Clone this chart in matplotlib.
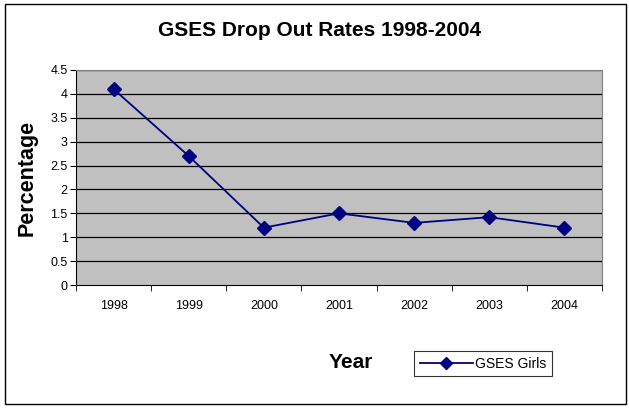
"""GSES drop out rates line chart, 1998-2004."""

import matplotlib.pyplot as plt
from matplotlib.lines import Line2D
from matplotlib.patches import Rectangle

plt.rcParams["font.family"] = ["Liberation Sans", "DejaVu Sans"]

years = ["1998", "1999", "2000", "2001", "2002", "2003", "2004"]
girls_rate = [4.1, 2.7, 1.2, 1.5, 1.3, 1.42, 1.2]
y_ticks = [0, 0.5, 1, 1.5, 2, 2.5, 3, 3.5, 4, 4.5]

navy = "#000080"

fig = plt.figure(figsize=(6.29, 4.12), dpi=100)
fig.patch.set_facecolor("white")

# chart area frame
fig.patches.append(Rectangle((5 / 629, 1 - 404 / 412), 621 / 629, 400 / 412,
                             transform=fig.transFigure, fill=False,
                             edgecolor="black", linewidth=1.0))

ax = fig.add_axes([76 / 629, 1 - 285 / 412, 526 / 629, 215 / 412])
ax.set_facecolor("#C0C0C0")

x = list(range(len(years)))
ax.plot(x, girls_rate, color=navy, linewidth=1.3, marker="D",
        markersize=7, markerfacecolor=navy, markeredgecolor=navy,
        zorder=3)

ax.set_xlim(-0.5, len(years) - 0.5)
ax.set_ylim(0, 4.5)
ax.set_yticks(y_ticks)
ax.set_yticklabels([f"{t:g}" for t in y_ticks], fontsize=9)
for t in y_ticks[1:]:
    ax.axhline(t, color="black", linewidth=0.9, zorder=1)

# category labels centred, tick marks on the category boundaries
ax.set_xticks(x)
ax.set_xticklabels(years, fontsize=9)
ax.tick_params(axis="x", length=0, pad=11)
ax.set_xticks([i - 0.5 for i in range(len(years) + 1)], minor=True)
ax.tick_params(axis="x", which="minor", length=4, color="black")
ax.tick_params(axis="y", length=4, color="black", pad=2)

ax.spines["top"].set_color("#808080")
ax.spines["right"].set_color("#808080")
ax.spines["left"].set_color("black")
ax.spines["bottom"].set_color("black")

fig.text(0.508, 1 - 30 / 412, "GSES Drop Out Rates 1998-2004",
         ha="center", va="center", fontsize=15, fontweight="bold")
fig.text(27 / 629, 1 - 178 / 412, "Percentage", rotation=90,
         ha="center", va="center", fontsize=15.5, fontweight="bold")
fig.text(351 / 629, 1 - 362 / 412, "Year",
         ha="center", va="center", fontsize=15, fontweight="bold")

handle = Line2D([], [], color=navy, linewidth=1.3, marker="D",
                markersize=6, markerfacecolor=navy)
leg = fig.legend([handle], ["GSES Girls"], loc="center",
                 bbox_to_anchor=(483 / 629, 1 - 363.5 / 412), fontsize=10,
                 frameon=True, fancybox=False, edgecolor="black",
                 handlelength=3.8, handletextpad=0.15, borderpad=0.4,
                 borderaxespad=0)
leg.get_frame().set_linewidth(0.8)

fig.savefig("out.png", dpi=100)
